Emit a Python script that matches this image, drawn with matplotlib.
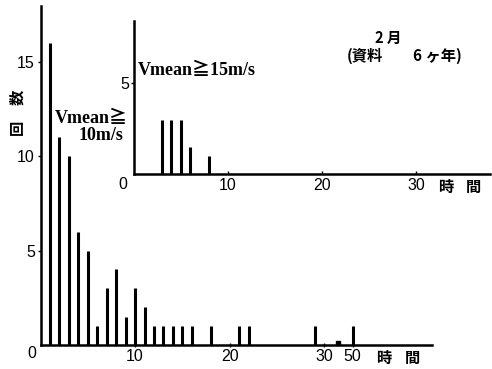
import numpy as np
import matplotlib
matplotlib.use("Agg")
import matplotlib.pyplot as plt

# ---- data ----
main_hours = [1, 2, 3, 4, 5, 6, 7, 8, 9, 10, 11, 12, 13, 14, 15, 16, 18, 21, 22, 29, 50]
main_counts = [16, 11, 10, 6, 5, 1, 3, 4, 1.5, 3, 2, 1, 1, 1, 1, 1, 1, 1, 1, 1, 1]
inset_hours = [3, 4, 5, 6, 8]
inset_counts = [3, 3, 3, 1.5, 1]
main_xticks = [10, 20, 30, 50]
main_yticks = [5, 10, 15]
inset_xticks = [10, 20, 30]
inset_yticks = [5]

W, H = 492, 369
fig = plt.figure(figsize=(W / 100, H / 100), dpi=100)

def px(x, y):
    return x / W, 1 - y / H

# broken axis: linear up to 31 h, compressed beyond
BRK = 31.0
K = 2.0 / 19.0
def fwd(h):
    h = np.asarray(h, dtype=float)
    return np.where(h <= BRK, h, BRK + (h - BRK) * K)
def inv(p):
    p = np.asarray(p, dtype=float)
    return np.where(p <= BRK, p, BRK + (p - BRK) / K)

num_font = dict(family=["Liberation Sans", "DejaVu Sans"], size=11.5)
cjk = ["Noto Sans CJK JP", "DejaVu Sans"]
serif = ["Liberation Serif", "DejaVu Serif", "Noto Sans CJK JP"]
cjk_kw = dict(family=cjk, fontsize=11, fontweight="bold", ha="center", va="center")

# ---- main axes ----
ax = fig.add_axes([40.5 / W, 24 / H, (432 - 40.5) / W, (345 - 6) / H])
ax.set_xscale("function", functions=(fwd, inv))
ax.set_xlim(0, float(inv(41.4)))
ax.set_ylim(0, 17.94)
ax.vlines(main_hours, 0, main_counts, colors="black", linewidth=2.2)
for s in ["top", "right"]:
    ax.spines[s].set_visible(False)
for s in ["left", "bottom"]:
    ax.spines[s].set_linewidth(1.8)
ax.set_xticks(main_xticks)
ax.set_xticklabels([str(t) for t in main_xticks], fontdict=num_font)
ax.set_yticks(main_yticks)
ax.set_yticklabels([str(t) for t in main_yticks], fontdict=num_font)
ax.xaxis.set_minor_locator(matplotlib.ticker.NullLocator())
ax.tick_params(axis="x", direction="inout", length=3, width=1, pad=1.5)
ax.tick_params(axis="y", direction="out", length=2.5, width=1, pad=1.5)
ax.patch.set_alpha(0)
# break marker
ax.plot([float(inv(31.5))], [0.12], marker="s", ms=3.2, color="black", clip_on=False)

fig.text(*px(32, 353), "0", ha="center", va="center", **num_font)
fig.text(*px(17, 127), "回", rotation=90, **cjk_kw)
fig.text(*px(17, 97), "数", rotation=90, **cjk_kw)
fig.text(*px(384, 358), "時", **cjk_kw)
fig.text(*px(412, 358), "間", **cjk_kw)
fig.text(*px(55, 119), "Vmean≧", ha="left", va="center",
         family=serif, fontsize=13, fontweight="bold")
fig.text(*px(123, 136), "10m/s", ha="right", va="center",
         family=serif, fontsize=13, fontweight="bold")

# ---- inset axes ----
ai = fig.add_axes([133.5 / W, (H - 174) / H, (490 - 133.5) / W, (174 - 21) / H])
ai.set_xlim(0, 37.8)
ai.set_ylim(0, 8.43)
ai.vlines(inset_hours, 0, inset_counts, colors="black", linewidth=2.2)
for s in ["top", "right"]:
    ai.spines[s].set_visible(False)
for s in ["left", "bottom"]:
    ai.spines[s].set_linewidth(1.8)
ai.set_xticks(inset_xticks)
ai.set_xticklabels([str(t) for t in inset_xticks], fontdict=num_font)
ai.set_yticks(inset_yticks)
ai.set_yticklabels([str(t) for t in inset_yticks], fontdict=num_font)
ai.tick_params(axis="x", direction="in", length=2, width=1, pad=3)
ai.tick_params(axis="y", direction="out", length=2, width=1, pad=1)
ai.patch.set_alpha(0)

fig.text(*px(123, 185), "0", ha="center", va="center", **num_font)
fig.text(*px(446, 187), "時", **cjk_kw)
fig.text(*px(473, 187), "間", **cjk_kw)
fig.text(*px(138, 71), "Vmean≧15m/s", ha="left", va="center",
         family=serif, fontsize=13, fontweight="bold")
fig.text(*px(388, 38), "2 月", ha="center", va="center",
         family=cjk, fontsize=10.5, fontweight="bold")
fig.text(*px(347, 56), "(資料", ha="left", va="center",
         family=cjk, fontsize=11, fontweight="bold")
fig.text(*px(413, 56), "6 ヶ年)", ha="left", va="center",
         family=cjk, fontsize=11, fontweight="bold")

fig.savefig("out.png", dpi=100)
